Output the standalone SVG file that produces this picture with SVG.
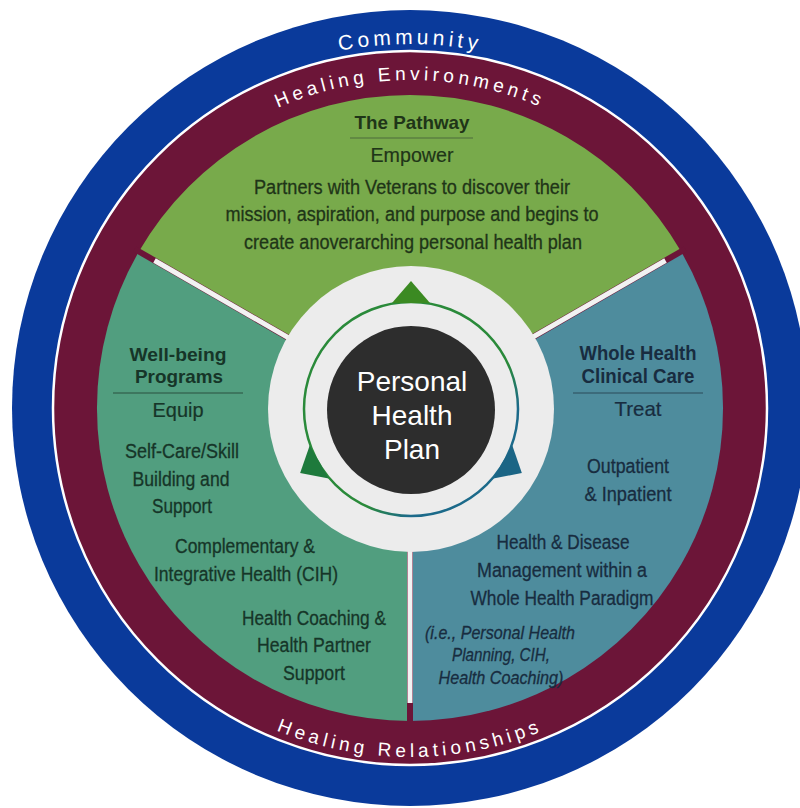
<svg xmlns="http://www.w3.org/2000/svg" width="800" height="808" viewBox="0 0 800 808">
<style>
.t{font-family:"Liberation Sans",Arial,sans-serif;text-anchor:middle}
.title{font-weight:bold;font-size:20.5px}
.verb{font-size:21px;stroke-width:0.2px}
.body{font-size:20px;stroke-width:0.3px}
.it{font-size:17.5px;font-style:italic;stroke-width:0.3px}
.cg{fill:#1f3518;stroke:#1f3518}
.cl{fill:#163528;stroke:#163528}
.cr{fill:#182c40;stroke:#182c40}
.title.cg,.title.cl,.title.cr{stroke:none}
.arc{fill:#ffffff;font-size:19px;letter-spacing:4.3px}
.big{fill:#ffffff;font-size:28px}
.rule{stroke-width:1.2}
</style>
<defs>
<path id="pComm" d="M 46 408 A 364 364 0 0 1 774 408"/>
<path id="pEnv" d="M 82 408 A 328 328 0 0 1 738 408"/>
<path id="pRel" d="M 61 408 A 349 349 0 0 0 759 408"/>
<linearGradient id="ringG" gradientUnits="userSpaceOnUse" x1="300" y1="300" x2="520" y2="520">
<stop offset="0.62" stop-color="#2a8a3a"/>
<stop offset="0.74" stop-color="#1c6a8a"/>
</linearGradient>
</defs>
<g id="rings">
<circle cx="410" cy="408" r="398" fill="#0a3a9b"/>
<circle cx="410" cy="408" r="357" fill="#6c1538" stroke="#ffffff" stroke-width="2.5"/>
<text class="t arc" style="font-size:21px;letter-spacing:4px"><textPath href="#pComm" startOffset="50%">Community</textPath></text>
<text class="t arc"><textPath href="#pEnv" startOffset="50%">Healing Environments</textPath></text>
<text class="t arc"><textPath href="#pRel" startOffset="50%">Healing Relationships</textPath></text>
</g>
<g id="sector-pathway">
<path d="M 410 408 L 138.9 251.5 A 313 313 0 0 1 681.1 251.5 Z" fill="#78aa4b"/>
<text class="t title cg" x="412" y="129" textLength="115" lengthAdjust="spacingAndGlyphs" style="font-size:19px">The Pathway</text>
<line class="rule" x1="350" y1="138" x2="473" y2="138" stroke="#4d6a3c"/>
<text class="t verb cg" x="412" y="162" textLength="83" lengthAdjust="spacingAndGlyphs">Empower</text>
<text class="t body cg" x="412" y="194" textLength="316" lengthAdjust="spacingAndGlyphs">Partners with Veterans to discover their</text>
<text class="t body cg" x="412" y="221" textLength="373" lengthAdjust="spacingAndGlyphs">mission, aspiration, and purpose and begins to</text>
<text class="t body cg" x="413" y="249" textLength="338" lengthAdjust="spacingAndGlyphs">create anoverarching personal health plan</text>
</g>
<g id="sector-wellbeing">
<path d="M 410 408 L 410 721 A 313 313 0 0 1 138.9 251.5 Z" fill="#519e7f"/>
<text class="t title cl" x="178" y="361" textLength="97" lengthAdjust="spacingAndGlyphs" style="font-size:19px">Well-being</text>
<text class="t title cl" x="179" y="382.5" textLength="88" lengthAdjust="spacingAndGlyphs" style="font-size:19px">Programs</text>
<line class="rule" x1="113" y1="393" x2="243" y2="393" stroke="#2a5040"/>
<text class="t verb cl" x="178" y="417" textLength="51" lengthAdjust="spacingAndGlyphs">Equip</text>
<text class="t body cl" x="182" y="458" textLength="114" lengthAdjust="spacingAndGlyphs">Self-Care/Skill</text>
<text class="t body cl" x="181" y="486" textLength="97" lengthAdjust="spacingAndGlyphs">Building and</text>
<text class="t body cl" x="182" y="513" textLength="60" lengthAdjust="spacingAndGlyphs">Support</text>
<text class="t body cl" x="245" y="553" textLength="140" lengthAdjust="spacingAndGlyphs">Complementary &amp;</text>
<text class="t body cl" x="246" y="581" textLength="184" lengthAdjust="spacingAndGlyphs">Integrative Health (CIH)</text>
<text class="t body cl" x="314" y="625" textLength="144" lengthAdjust="spacingAndGlyphs">Health Coaching &amp;</text>
<text class="t body cl" x="314" y="652" textLength="114" lengthAdjust="spacingAndGlyphs">Health Partner</text>
<text class="t body cl" x="314" y="680" textLength="62" lengthAdjust="spacingAndGlyphs">Support</text>
</g>
<g id="sector-clinical">
<path d="M 410 408 L 681.1 251.5 A 313 313 0 0 1 410 721 Z" fill="#4e8c9d"/>
<text class="t title cr" x="638" y="360" textLength="117" lengthAdjust="spacingAndGlyphs">Whole Health</text>
<text class="t title cr" x="638" y="383" textLength="113" lengthAdjust="spacingAndGlyphs">Clinical Care</text>
<line class="rule" x1="573" y1="393" x2="703" y2="393" stroke="#2a4a5a"/>
<text class="t verb cr" x="638" y="416" textLength="47" lengthAdjust="spacingAndGlyphs">Treat</text>
<text class="t body cr" x="628" y="473" textLength="82" lengthAdjust="spacingAndGlyphs">Outpatient</text>
<text class="t body cr" x="628" y="501" textLength="87" lengthAdjust="spacingAndGlyphs">&amp; Inpatient</text>
<text class="t body cr" x="563" y="549" textLength="133" lengthAdjust="spacingAndGlyphs">Health &amp; Disease</text>
<text class="t body cr" x="562" y="577" textLength="170" lengthAdjust="spacingAndGlyphs">Management within a</text>
<text class="t body cr" x="562" y="605" textLength="183" lengthAdjust="spacingAndGlyphs">Whole Health Paradigm</text>
<text class="t it cr" x="500" y="639" textLength="150" lengthAdjust="spacingAndGlyphs">(i.e., Personal Health</text>
<text class="t it cr" x="501" y="661" textLength="98" lengthAdjust="spacingAndGlyphs">Planning, CIH,</text>
<text class="t it cr" x="501" y="684" textLength="125" lengthAdjust="spacingAndGlyphs">Health Coaching)</text>
</g>
<g id="connectors">
<g stroke="#6c1538" stroke-width="6">
<line x1="410" y1="408" x2="134.6" y2="249"/>
<line x1="410" y1="408" x2="685.4" y2="249"/>
<line x1="410" y1="408" x2="410" y2="726"/>
</g>
<g stroke="#f2f2f2" stroke-width="5">
<line x1="410" y1="408" x2="154.5" y2="260.5"/>
<line x1="410" y1="408" x2="665.5" y2="260.5"/>
<line x1="410" y1="408" x2="410" y2="703"/>
</g>
</g>
<g id="hub">
<circle cx="411" cy="409" r="143" fill="#ececec"/>
<circle cx="411" cy="409" r="107" fill="none" stroke="url(#ringG)" stroke-width="2.5"/>
<polygon points="411,281 392,303 430,303" fill="#3b8a22"/>
<polygon points="411,281 392,303 430,303" fill="#1b6585" transform="rotate(120 411 409)"/>
<polygon points="411,281 392,303 430,303" fill="#1e7a3c" transform="rotate(240 411 409)"/>
<circle cx="411" cy="410" r="84" fill="#2d2d2d"/>
<text class="t big" x="412" y="391">Personal</text>
<text class="t big" x="412" y="425">Health</text>
<text class="t big" x="412" y="459">Plan</text>
</g>
</svg>
